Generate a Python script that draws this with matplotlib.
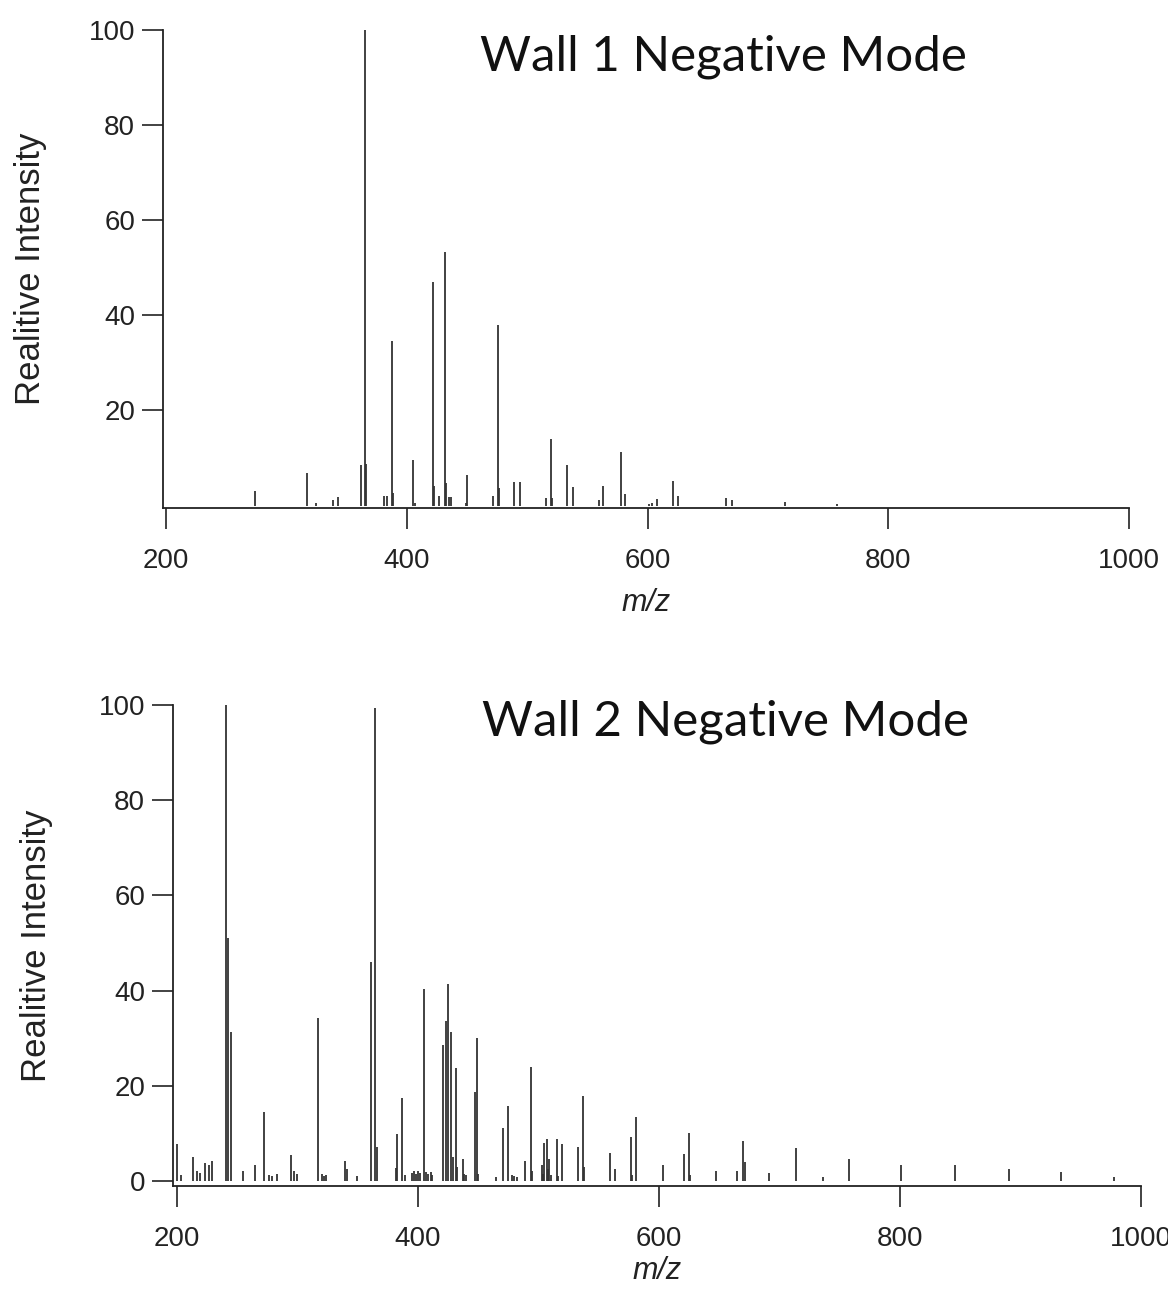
import matplotlib
matplotlib.use("Agg")
import matplotlib.pyplot as plt

# ---- Wall 1 negative mode ----
wall1_mz = [273.9, 316.9, 325.0, 339.0, 343.0, 361.7, 365.3, 366.5, 381.5, 383.5,
            388.0, 388.8, 405.4, 406.5, 422.0, 422.9, 427.0, 431.8, 433.0, 435.0,
            437.0, 449.0, 449.8, 471.4, 475.5, 476.8, 489.0, 494.0, 515.7, 519.8,
            520.8, 532.8, 537.8, 559.7, 563.3, 578.0, 581.6, 601.0, 604.0, 608.0,
            621.5, 625.6, 665.2, 670.0, 714.2, 757.7]
wall1_int = [3.0, 6.9, 0.5, 1.1, 1.8, 8.5, 100.0, 8.8, 2.0, 2.0,
             34.7, 2.7, 9.5, 0.6, 47.1, 4.1, 2.0, 53.4, 4.8, 1.8,
             1.8, 0.5, 6.5, 2.0, 38.0, 3.7, 4.9, 4.9, 1.5, 14.1,
             1.5, 8.5, 3.9, 1.1, 4.1, 11.2, 2.5, 0.3, 0.5, 1.3,
             5.1, 2.0, 1.5, 1.1, 0.7, 0.4]

# ---- Wall 2 negative mode ----
wall2_mz = [200.3, 203.0, 213.0, 216.3, 219.0, 223.2, 226.6, 229.3, 241.0, 242.6,
            244.6, 255.0, 264.7, 272.5, 276.3, 279.0, 283.2, 294.3, 297.0, 299.6,
            316.8, 320.0, 322.0, 324.0, 339.4, 341.3, 349.0, 360.7, 364.3, 365.7,
            381.5, 382.8, 387.0, 389.0, 394.7, 396.5, 398.0, 400.0, 401.7, 405.0,
            406.5, 408.5, 410.5, 412.0, 421.0, 423.2, 425.1, 427.1, 429.3, 431.5,
            432.5, 437.0, 438.5, 440.0, 447.3, 449.2, 450.0, 464.7, 470.8, 475.0,
            477.8, 480.0, 482.0, 488.8, 493.5, 494.5, 502.6, 503.5, 504.5, 506.8,
            507.8, 508.7, 510.0, 515.1, 516.0, 519.3, 533.0, 537.2, 538.0, 559.0,
            563.5, 577.0, 578.0, 581.3, 603.0, 621.0, 625.2, 626.0, 647.3, 665.0,
            669.5, 671.1, 691.3, 713.4, 735.8, 757.7, 800.8, 845.3, 890.4, 933.4,
            977.8]
wall2_int = [7.7, 1.3, 5.1, 2.0, 1.7, 3.7, 3.4, 4.3, 100.0, 51.0,
             31.4, 2.0, 3.4, 14.4, 1.2, 1.0, 1.5, 5.5, 2.0, 1.5,
             34.2, 1.5, 1.0, 1.2, 4.3, 2.5, 1.0, 46.1, 99.3, 7.2,
             2.7, 9.9, 17.4, 1.2, 1.7, 2.0, 1.5, 2.0, 1.7, 40.3,
             1.8, 1.5, 1.8, 1.3, 28.6, 33.6, 41.3, 31.4, 5.1, 23.7,
             3.0, 4.6, 1.5, 1.2, 18.6, 30.0, 1.5, 0.8, 11.1, 15.8,
             1.2, 1.0, 0.8, 4.1, 24.0, 2.0, 3.4, 1.5, 7.9, 8.8,
             2.5, 4.6, 1.2, 8.8, 1.0, 7.7, 7.1, 17.9, 3.0, 5.8,
             2.5, 9.3, 1.2, 13.4, 3.4, 5.7, 10.1, 1.3, 2.2, 2.1,
             8.3, 3.9, 1.6, 6.9, 0.8, 4.7, 3.3, 3.3, 2.5, 1.8,
             0.9]

x_ticks = [200, 400, 600, 800, 1000]
y_ticks_top = [20, 40, 60, 80, 100]
y_ticks_bottom = [0, 20, 40, 60, 80, 100]
titles = ["Wall 1 Negative Mode", "Wall 2 Negative Mode"]
y_label = "Realitive Intensity"
x_label = "m/z"

W, H = 1168, 1292
fig = plt.figure(figsize=(W / 100, H / 100), dpi=100)

def px_axes(left, top, right, bottom):
    return fig.add_axes([left / W, 1 - bottom / H, (right - left) / W, (bottom - top) / H])

ax1 = px_axes(163, 30, 1129, 508)
ax2 = px_axes(173, 705, 1141, 1186)

bar_color = "#333333"
sans = ["Liberation Sans", "DejaVu Sans"]

def style(ax, mz, inten, xlim, ylim, yticks, title, tx, ty, ylab_x, xlab_pad):
    ax.vlines(mz, 0, inten, colors=bar_color, linewidth=1.3)
    ax.set_xlim(*xlim)
    ax.set_ylim(*ylim)
    ax.set_xticks(x_ticks)
    ax.set_yticks(yticks)
    for s in ["top", "right"]:
        ax.spines[s].set_visible(False)
    for s in ["left", "bottom"]:
        ax.spines[s].set_linewidth(1.3)
        ax.spines[s].set_color("#222222")
    ax.tick_params(axis="both", direction="out", length=15, width=1.2,
                   colors="#222222", labelcolor="#222222")
    ax.tick_params(axis="x", pad=14)
    ax.tick_params(axis="y", pad=5)
    for lab in ax.get_xticklabels() + ax.get_yticklabels():
        lab.set_fontfamily(sans)
        lab.set_fontsize(20)
    ax.set_xlabel(x_label, fontstyle="italic", fontsize=22,
                  family=sans, color="#222222", labelpad=xlab_pad)
    ax.set_ylabel(y_label, fontsize=25, family=sans, color="#222222")
    ax.yaxis.set_label_coords(ylab_x, 0.5)
    fig.text(tx / W, 1 - ty / H, title, fontsize=35.5, family=["Lato", "DejaVu Sans"],
             ha="center", va="center", color="#111111")

style(ax1, wall1_mz, wall1_int, (197.5, 1000), (-0.5, 100), y_ticks_top,
      titles[0], 723, 57, -0.12, 10)
style(ax2, wall2_mz, wall2_int, (196.7, 1000), (-1.05, 100), y_ticks_bottom,
      titles[1], 726, 722, -0.124, 3)

fig.savefig("out.png", dpi=100)
